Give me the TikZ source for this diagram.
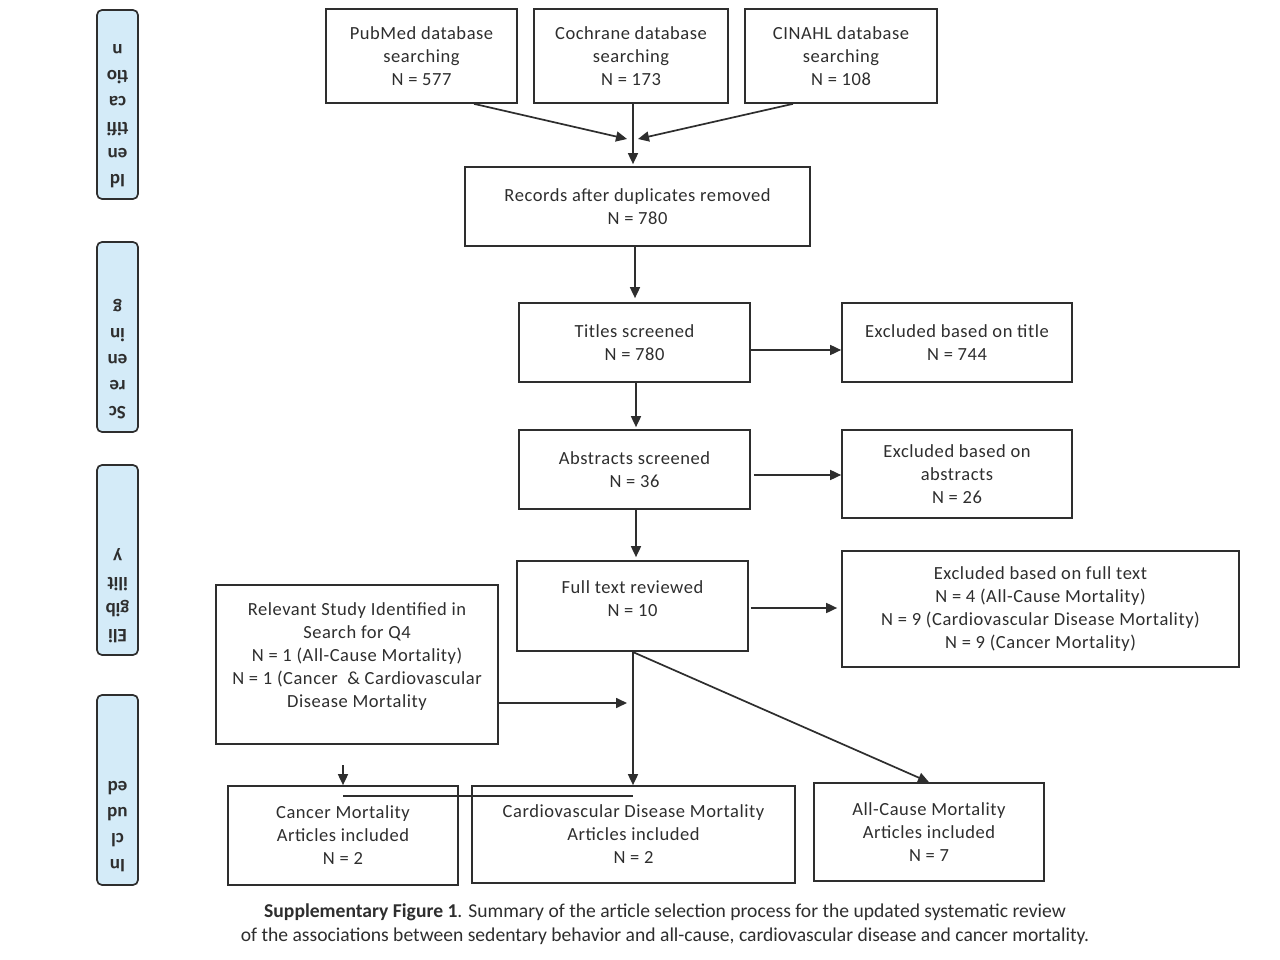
\documentclass[tikz,border=0pt]{standalone}
\usepackage{fontspec}
\setmainfont{Carlito}
\newfontfamily\boxfont[LetterSpace=3]{Carlito}
\usetikzlibrary{arrows.meta,calc}
\definecolor{ln}{HTML}{2E2E2E}
\definecolor{sidec}{HTML}{D4EBF8}
\begin{document}
\begin{tikzpicture}[x=1pt,y=-1pt,
  box/.style={draw=ln, line width=1.7pt, align=center, text=ln, font=\boxfont\fontsize{18.5}{23}\selectfont, inner sep=0pt},
  txt/.style={align=center, text=ln, font=\boxfont\fontsize{18.5}{23}\selectfont, inner sep=0pt},
  arr/.style={draw=ln, line width=1.7pt, -{Triangle[length=11pt,width=10pt]}},
  lnk/.style={draw=ln, line width=1.7pt},
  sidebox/.style={draw=ln, fill=sidec, rounded corners=5pt, line width=1.7pt, minimum width=41pt, inner sep=0pt},
  sidetxt/.style={rotate=180, anchor=north, align=center, font=\bfseries\fontsize{19}{26}\selectfont, text=ln, inner sep=0pt}]
\useasboundingbox (0,0) rectangle (1280,960);
\fill[white] (0,0) rectangle (1280,960);

% side labels
\node[sidebox, minimum height=189pt] (s1) at (117.5,104.5) {};
\node[sidetxt] (s1t) at (117.5,188) {Id\\en\\tifi\\ca\\tio\\n};
\node[sidebox, minimum height=190pt] (s2) at (117.5,337) {};
\node[sidetxt] (s2t) at (117.5,419) {Sc\\re\\en\\in\\g};
\node[sidebox, minimum height=190pt] (s3) at (117.5,560) {};
\node[sidetxt] (s3t) at (117.5,643) {Eli\\gib\\ilit\\y};
\node[sidebox, minimum height=190pt] (s4) at (117.5,790) {};
\node[sidetxt] (s4t) at (117.5,872) {In\\cl\\ud\\ed};

% boxes
\node[box, minimum width=191pt, minimum height=94pt] (pub) at (421.5,56) {PubMed database\\searching\\N = 577};
\node[box, minimum width=194pt, minimum height=94pt] (coc) at (631,56) {Cochrane database\\searching\\N = 173};
\node[box, minimum width=192pt, minimum height=94pt] (cin) at (841,56) {CINAHL database\\searching\\N = 108};
\node[box, minimum width=345pt, minimum height=79pt] (rec) at (637.5,206.5) {Records after duplicates removed\\N = 780};
\node[box, minimum width=231pt, minimum height=79pt] (tit) at (634.5,342.5) {Titles screened\\N = 780};
\node[box, minimum width=230pt, minimum height=79pt] (exT) at (957,342.5) {Excluded based on title\\N = 744};
\node[box, minimum width=231pt, minimum height=79pt] (abs) at (634.5,469.5) {Abstracts screened\\N = 36};
\node[box, minimum width=230pt, minimum height=88pt] (exA) at (957,474) {Excluded based on\\abstracts\\N = 26};
\node[box, minimum width=231pt, minimum height=90pt] (full) at (632.5,606) {};
\node[txt] (fullt) at (632.5,599) {Full text reviewed\\N = 10};
\node[box, minimum width=397pt, minimum height=116pt] (exF) at (1040.5,609) {Excluded based on full text\\N = 4 (All-Cause Mortality)\\N = 9 (Cardiovascular Disease Mortality)\\N = 9 (Cancer Mortality)};
\node[box, minimum width=282pt, minimum height=159pt] (rel) at (357,664.5) {};
\node[txt] (relt) at (357,657) {Relevant Study Identified in\\Search for Q4\\N = 1 (All-Cause Mortality)\\N = 1 (Cancer \ \& Cardiovascular\\Disease Mortality};
\node[box, minimum width=230pt, minimum height=99pt] (can) at (343,835.5) {Cancer Mortality\\Articles included\\N = 2};
\node[box, minimum width=323pt, minimum height=97pt] (cvd) at (633.5,834.5) {Cardiovascular Disease Mortality\\Articles included\\N = 2};
\node[box, minimum width=230pt, minimum height=98pt] (all) at (929,832) {All-Cause Mortality\\Articles included\\N = 7};

% connectors
\coordinate (m1) at (627,139);
\coordinate (m2) at (638,139);
\coordinate (m3) at (627,703);
\coordinate (m4) at (343,765);
\draw[arr] ($(pub.south)+(52.5,0)$) -- (m1);
\draw[arr] ($(coc.south)+(2,0)$) -- ($(coc.south |- rec.north)+(2,-2)$);
\draw[arr] ($(cin.south)+(-48,0)$) -- (m2);
\draw[arr] ($(tit.north |- rec.south)+(0.5,0)$) -- ($(tit.north)+(0.5,-4)$);
\draw[arr] ($(tit.east)+(0,7.5)$) -- ($(exT.west)+(0,7.5)$);
\draw[arr] ($(abs.north |- tit.south)+(1.5,0)$) -- ($(abs.north)+(1.5,-2)$);
\draw[arr] ($(abs.east)+(3,5.5)$) -- ($(exA.west)+(0,1)$);
\draw[arr] ($(full.north |- abs.south)+(3.5,0)$) -- ($(full.north)+(3.5,-3)$);
\draw[arr] ($(full.east)+(2,2)$) -- ($(exF.west)+(-4,-1)$);
\draw[arr] ($(full.south)+(0.5,0)$) -- ($(full.south |- cvd.north)+(0.5,0)$);
\draw[arr] (full.south) -- (all.north);
\draw[arr] ($(rel.east)+(0,38.5)$) -- (m3);
\draw[arr] (m4) -- (can.north);
\draw[lnk] ($(can.north)+(0,11)$) -- ($(cvd.north)+(-0.5,11)$);

% caption
\node[align=center, text=ln, inner sep=0pt, font=\fontsize{19.6}{23.5}\selectfont] (cap) at (665,924) {\textbf{Supplementary Figure 1}. Summary of the article selection process for the updated systematic review\\of the associations between sedentary behavior and all-cause, cardiovascular disease and cancer mortality.};
\end{tikzpicture}
\end{document}
